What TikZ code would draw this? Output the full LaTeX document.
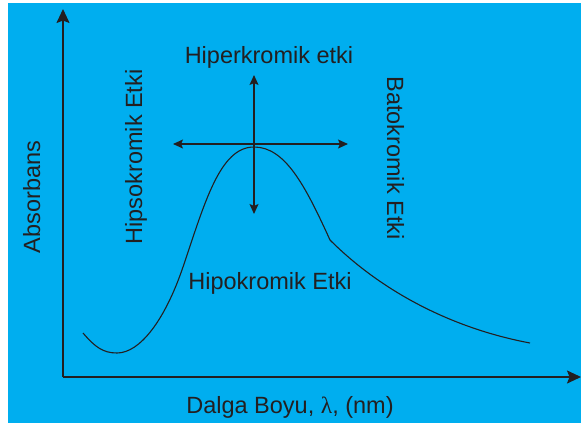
\documentclass[tikz,border=0pt]{standalone}
\usepackage{fontspec}
\setmainfont{Liberation Sans}
\newfontfamily\grk{Liberation Serif}
\usetikzlibrary{arrows.meta}
\definecolor{bgblue}{RGB}{0,174,239}
\definecolor{ink}{RGB}{35,31,32}
\tikzset{
  axisline/.style={draw=ink, line width=1.8pt, -{Stealth[length=14pt,width=13pt,inset=2.5pt]}},
  shiftarrow/.style={draw=ink, line width=1.1pt, {Stealth[length=10pt,width=9pt,inset=2pt]}-{Stealth[length=10pt,width=9pt,inset=2pt]}},
  curveline/.style={draw=ink, line width=1.1pt, line join=miter},
  lbl/.style={text=ink, font=\fontsize{23.5}{28}\selectfont, inner sep=0pt}
}
\begin{document}
\begin{tikzpicture}[x=1pt,y=-1pt]
\useasboundingbox (0,0) rectangle (581,423);
\fill[white] (0,0) rectangle (581,423);
\fill[bgblue] (8,3) rectangle (581,423);
% axes
\coordinate (O) at (63,377);
\coordinate (Ytip) at (63,9);
\coordinate (Xtip) at (581,377);
\draw[axisline] (O) -- (Ytip);
\draw[axisline] (O) -- (Xtip);
% curve
\coordinate (C0) at (83,333);
\coordinate (Cmin) at (117,353);
\coordinate (C1) at (183,267);
\coordinate (Cpk) at (254,147);
\coordinate (Ck) at (330,240);
\coordinate (Cend) at (530,343);
\draw[curveline] (C0) .. controls (95,347) and (103,353) .. (Cmin)
  .. controls (140,353) and (165,320) .. (C1)
  .. controls (205,202) and (220,147) .. (Cpk)
  .. controls (285,147) and (305,185) .. (Ck)
  .. controls (380,290) and (450,328) .. (Cend);
% shift arrows
\coordinate (L) at (173,144);
\coordinate (R) at (348,144);
\coordinate (T) at (254,75);
\coordinate (B) at (254,214);
\draw[shiftarrow] (L) -- (R);
\draw[shiftarrow] (T) -- (B);
% labels
\node[lbl, anchor=base] (hiper) at (269,63) {Hiperkromik etki};
\node[lbl, anchor=base] (hipo) at (270,289) {Hipokromik Etki};
\node[lbl, anchor=base, rotate=90] (hipso) at (142,157) {Hipsokromik Etki};
\node[lbl, anchor=base, rotate=-90] (bato) at (387,158) {Batokromik Etki};
\node[lbl, anchor=base, rotate=90] (abs) at (40,197) {Absorbans};
\node[lbl, anchor=base] (dalga) at (290,413) {Dalga Boyu, {\grk λ}, (nm)};
\end{tikzpicture}
\end{document}
